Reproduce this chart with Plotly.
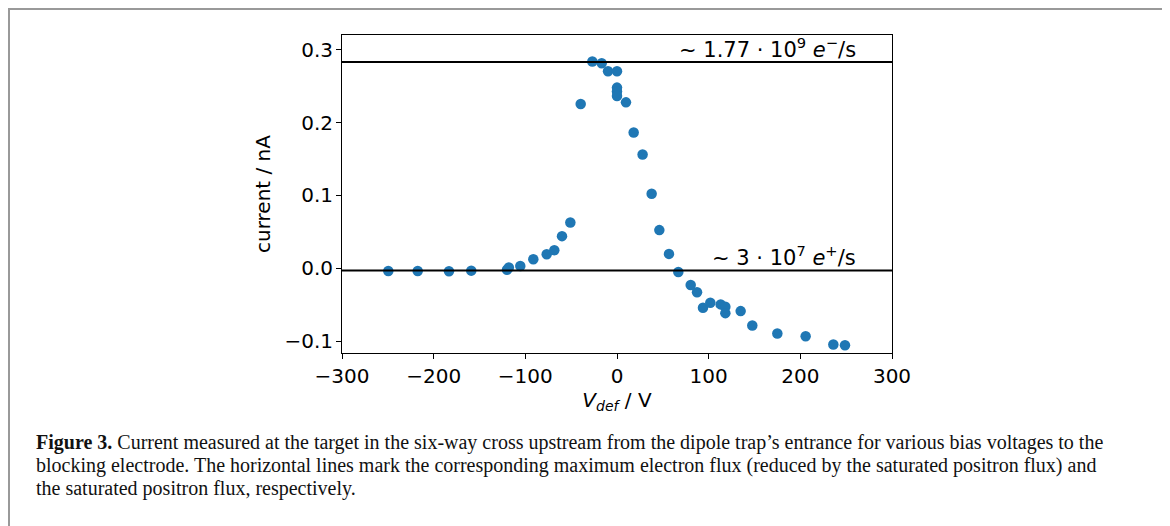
import plotly.graph_objects as go

# Data
v_def = [-249.5, -217.4, -183.3, -159.0, -120.0, -118.0, -105.5, -91.3, -76.7, -68.4,
         -60.0, -50.9, -39.6, -26.9, -16.7, -9.8, 0.0, 0.0, 0.0, 0.0,
         9.8, 18.2, 27.9, 37.8, 46.2, 56.7, 66.9, 80.4, 87.3, 93.8,
         101.8, 113.1, 118.2, 118.2, 134.9, 147.6, 174.9, 205.8, 236.0, 248.7]
current = [-0.0037, -0.0037, -0.0041, -0.0033, -0.002, 0.001, 0.003, 0.0124, 0.0193, 0.0248,
           0.0441, 0.0629, 0.2257, 0.2841, 0.2818, 0.2708, 0.2708, 0.2483, 0.2430, 0.2367,
           0.228, 0.1866, 0.1563, 0.1025, 0.0524, 0.0197, -0.0051, -0.023, -0.0331, -0.0543,
           -0.0474, -0.0497, -0.053, -0.0617, -0.0589, -0.0786, -0.0897, -0.0934, -0.1048, -0.1058]

electron_level = 0.2836
positron_level = -0.003
x_ticks = [-300, -200, -100, 0, 100, 200, 300]
y_ticks = [-0.1, 0.0, 0.1, 0.2, 0.3]
y_tick_labels = ["\u22120.1", "0.0", "0.1", "0.2", "0.3"]
x_tick_labels = ["\u2212300", "\u2212200", "\u2212100", "0", "100", "200", "300"]

caption_lines = [
    "<b>Figure 3.</b> Current measured at the target in the six-way cross upstream from the dipole trap\u2019s entrance for various bias voltages to the",
    "blocking electrode. The horizontal lines mark the corresponding maximum electron flux (reduced by the saturated positron flux) and",
    "the saturated positron flux, respectively.",
]

# page body margin offset (figure is drawn 8px in from the window edge)
OFF = 8
W, H = 1170 - OFF, 526 - OFF
L, R, T, B = 342 - OFF, 892 - OFF, 35 - OFF, 353 - OFF

def px(xscreen):
    return (xscreen - OFF - L) / (R - L)

def py(yscreen):
    return (B - (yscreen - OFF)) / (B - T)

fig = go.Figure()
fig.add_trace(go.Scatter(x=v_def, y=current, mode="markers",
                         marker=dict(color="#1f77b4", size=10.5, line=dict(width=0)),
                         showlegend=False, cliponaxis=False))

fig.add_hline(y=electron_level, line=dict(color="black", width=2))
fig.add_hline(y=positron_level, line=dict(color="black", width=2))

tick_font = dict(family="DejaVu Sans", size=20, color="black")
fig.update_xaxes(range=[-300, 300], tickvals=x_ticks, ticktext=x_tick_labels,
                 showline=True, linecolor="black", linewidth=1, mirror=True,
                 ticks="outside", ticklen=5, tickcolor="black", tickwidth=1,
                 showgrid=False, zeroline=False, tickfont=tick_font,
                 title=dict(text="<i>V</i><sub><i>def</i></sub> / V", font=tick_font, standoff=0))
fig.update_yaxes(range=[-0.1165, 0.3206], tickvals=y_ticks, ticktext=y_tick_labels,
                 showline=True, linecolor="black", linewidth=1, mirror=True,
                 ticks="outside", ticklen=5, tickcolor="black", tickwidth=1,
                 ticklabelstandoff=-1,
                 showgrid=False, zeroline=False, tickfont=tick_font,
                 title=dict(text="current / nA", font=tick_font, standoff=8))

ann_font = dict(family="DejaVu Sans", size=21, color="black")
fig.add_annotation(x=px(858), y=electron_level, xref="paper", yref="y",
                   text="~ 1.77 \u00b7 10<sup>9</sup> <i>e</i><sup>\u2212</sup>/s",
                   showarrow=False, xanchor="right", yanchor="bottom", font=ann_font, yshift=-2)
fig.add_annotation(x=px(858), y=positron_level, xref="paper", yref="y",
                   text="~ 3 \u00b7 10<sup>7</sup> <i>e</i><sup>+</sup>/s",
                   showarrow=False, xanchor="right", yanchor="bottom", font=ann_font, yshift=-2)

cap_font = dict(family="Liberation Serif", size=20, color="#111111")
for i, line in enumerate(caption_lines):
    fig.add_annotation(x=px(34), y=py(442 + 23 * i), xref="paper", yref="paper",
                       text=line, showarrow=False, xanchor="left", yanchor="middle",
                       align="left", font=cap_font)

fig.add_shape(type="rect", xref="paper", yref="paper",
              x0=px(9), x1=px(1163), y0=py(9), y1=py(600),
              line=dict(color="#999999", width=2), fillcolor="rgba(0,0,0,0)", layer="below")

fig.update_layout(width=W, height=H, margin=dict(l=L, r=W - R, t=T, b=H - B, autoexpand=False),
                  plot_bgcolor="white", paper_bgcolor="white")

fig.write_html("out.html")
